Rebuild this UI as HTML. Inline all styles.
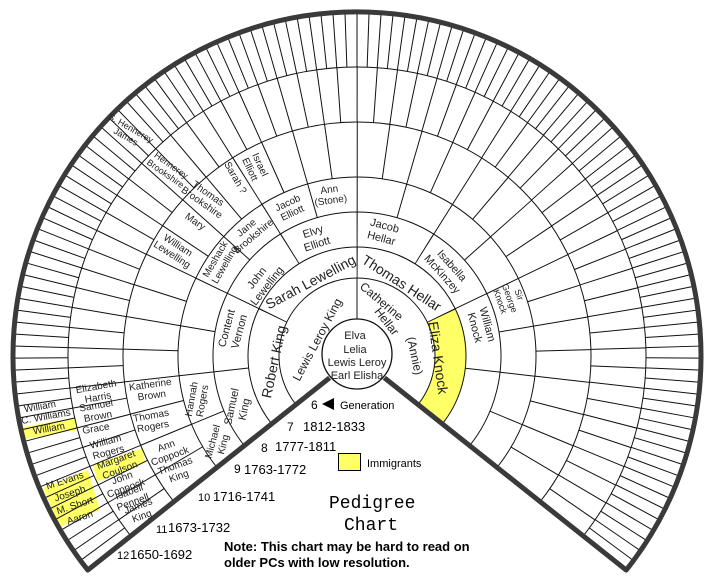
<!DOCTYPE html>
<html><head><meta charset="utf-8"><style>
html,body{margin:0;padding:0;background:#fff;width:718px;height:585px;overflow:hidden;}
svg{display:block;}
.h{font-family:"Liberation Sans",sans-serif;fill:#222;text-anchor:middle;dominant-baseline:middle;}
.s{font-family:"Liberation Sans",sans-serif;fill:#000;}
</style></head><body>
<svg width="718" height="585" viewBox="0 0 718 585" xmlns="http://www.w3.org/2000/svg" overflow="hidden">
<rect width="718" height="585" fill="#fff"/>
<path d="M427.3 322.1 A78 78 0 0 1 418.0 404.6 L442.3 423.9 A109 109 0 0 0 455.2 308.7Z" fill="#ffff66"/>
<polygon points="23,427 75,418 78,430 25,439" fill="#ffff66"/>
<polygon points="93,465 143,448 145,463 97,482" fill="#ffff66"/>
<polygon points="43,488 88,470 100,510 60,527" fill="#ffff66"/>
<g fill="none" stroke="#111" stroke-width="1">
<path d="M296.0 404.6 A78 78 0 1 1 418.0 404.6"/>
<path d="M271.7 423.9 A109 109 0 1 1 442.3 423.9"/>
<path d="M244.3 445.6 A144 144 0 1 1 469.7 445.6"/>
<path d="M216.9 467.4 A179 179 0 1 1 497.1 467.4"/>
<path d="M173.9 501.7 A234 234 0 1 1 540.1 501.7"/>
<path d="M130.8 535.9 A289 289 0 1 1 583.2 535.9"/>
<line x1="357" y1="319" x2="357" y2="278"/>
</g>
<g fill="none" stroke="#111" stroke-dashoffset="0.5">
<path d="M283.8 414.2 A93.5 93.5 0 1 1 430.2 414.2" stroke-width="31" stroke-dasharray="1 103.85"/>
<path d="M258.0 434.7 A126.5 126.5 0 1 1 456.0 434.7" stroke-width="35" stroke-dasharray="1 69.93"/>
<path d="M230.6 456.5 A161.5 161.5 0 1 1 483.4 456.5" stroke-width="35" stroke-dasharray="1 44.28"/>
<path d="M195.4 484.5 A206.5 206.5 0 1 1 518.6 484.5" stroke-width="55" stroke-dasharray="1 27.95"/>
<path d="M152.4 518.8 A261.5 261.5 0 1 1 561.6 518.8" stroke-width="55" stroke-dasharray="1 17.33"/>
<path d="M109.3 553.0 A316.5 316.5 0 1 1 604.7 553.0" stroke-width="55" stroke-dasharray="1 10.09"/>
</g>
<polygon points="357,356 645,583 69,583" fill="#fff"/>
<circle cx="357" cy="354" r="35" fill="#fff" stroke="#111" stroke-width="1.3"/>
<g fill="none" stroke="#3a3a3a" stroke-width="5" stroke-linejoin="round">
<path d="M329.6 377.8 L87.8 570.1 A344 344 0 1 1 626.2 570.1 L384.4 377.8"/>
</g>
<g class="h" font-size="11">
<text x="355" y="336">Elva</text>
<text x="355" y="350">Lelia</text>
<text x="357" y="363">Lewis Leroy</text>
<text x="357" y="376">Earl Elisha</text>
</g>
<g class="h" font-size="12">
<text transform="translate(318,340) rotate(-62)">Lewis Leroy King</text>
<text transform="translate(381,302) rotate(40)">Catherine</text>
<text transform="translate(386,322) rotate(52)">Hellar</text>
<text transform="translate(414,356) rotate(78)">(Annie)</text>
<text transform="translate(275,362) rotate(-78)" font-size="14">Robert King</text>
<text transform="translate(311,283) rotate(-28)" font-size="14">Sarah Lewelling</text>
<text transform="translate(401,284) rotate(33)" font-size="14">Thomas Hellar</text>
<text transform="translate(437,358) rotate(82)" font-size="14">Eliza Knock</text>
</g>
<g class="h" font-size="11">
<g transform="translate(238,408) rotate(-78)"><text y="-6">Samuel</text><text y="7">King</text></g>
<g transform="translate(233,330) rotate(-75)"><text y="-6">Content</text><text y="7">Vernon</text></g>
<g transform="translate(262,282) rotate(-52)"><text y="-6">John</text><text y="7">Lewelling</text></g>
<g transform="translate(315,238) rotate(-18)"><text y="-6">Elvy</text><text y="7">Elliott</text></g>
<g transform="translate(383,232) rotate(15)"><text y="-6">Jacob</text><text y="7">Hellar</text></g>
<g transform="translate(447,270) rotate(48)"><text y="-6">Isabella</text><text y="7">McKinzey</text></g>
<g transform="translate(481,326) rotate(75)"><text y="-6">William</text><text y="7">Knock</text></g>
</g>
<g class="h" font-size="10">
<g transform="translate(330,195) rotate(-8)"><text y="-5">Ann</text><text y="6">(Stone)</text></g>
<g transform="translate(290,208) rotate(-25)"><text y="-5">Jacob</text><text y="6">Elliott</text></g>
<g transform="translate(250,232) rotate(-40)"><text y="-5">Jane</text><text y="6">Brookshire</text></g>
<g transform="translate(220,262) rotate(-60)"><text y="-5">Meshack</text><text y="6">Lewelling</text></g>
<g transform="translate(197,400) rotate(-80)"><text y="-5">Hannah</text><text y="6">Rogers</text></g>
<g transform="translate(218,443) rotate(-75)"><text y="-5">Michael</text><text y="6">King</text></g>
<g transform="translate(177,471) rotate(-20)"><text y="-5">Thomas</text><text y="6">King</text></g>
<g transform="translate(168,451) rotate(-20)"><text y="-5">Ann</text><text y="6">Coppock</text></g>
<g transform="translate(151,390) rotate(-8)"><text y="-5">Katherine</text><text y="6">Brown</text></g>
<g transform="translate(152,421) rotate(-10)"><text y="-5">Thomas</text><text y="6">Rogers</text></g>
<g transform="translate(175,250) rotate(33)"><text y="-5">William</text><text y="6">Lewelling</text></g>
<g transform="translate(205,198) rotate(35)"><text y="-5">Thomas</text><text y="6">Brookshire</text></g>
<text transform="translate(195,222) rotate(35)">Mary</text>
<text transform="translate(235,178) rotate(60)">Sarah ?</text>
<g transform="translate(255,167) rotate(65)"><text y="-5">Israel</text><text y="6">Elliott</text></g>
<g transform="translate(97,392) rotate(-10)"><text y="-5">Elizabeth</text><text y="6">Harris</text></g>
<g transform="translate(97,411) rotate(-10)"><text y="-5">Samuel</text><text y="6">Brown</text></g>
<text transform="translate(96,429) rotate(-10)">Grace</text>
<g transform="translate(107,447) rotate(-15)"><text y="-5">William</text><text y="6">Rogers</text></g>
<g transform="translate(118,465) rotate(-20)"><text y="-5">Margaret</text><text y="6">Coulson</text></g>
<g transform="translate(124,483) rotate(-20)"><text y="-5">John</text><text y="6">Coppock</text></g>
<g transform="translate(131,497) rotate(-20)"><text y="-5">Isabell</text><text y="6">Pennell</text></g>
<g transform="translate(140,511) rotate(-20)"><text y="-5">James</text><text y="6">King</text></g>
<text transform="translate(40,407) rotate(-10)">William</text>
<text transform="translate(46,417) rotate(-10)">C. Williams</text>
<text transform="translate(49,429) rotate(-10)">William</text>
<text transform="translate(65,481) rotate(-18)">M Evans</text>
<text transform="translate(70,494) rotate(-18)">Joseph</text>
<text transform="translate(75,506) rotate(-18)">M. Short</text>
<text transform="translate(80,518) rotate(-18)">Aaron</text>
</g>
<g class="h" font-size="9">
<g transform="translate(510,298) rotate(70)"><text y="-9">Sir</text><text y="1">George</text><text y="11">Knock</text></g>
<g transform="translate(168,170) rotate(35)"><text y="-5">Hennerey</text><text y="5">Brookshire</text></g>
<g transform="translate(128,133) rotate(30)"><text y="-5">S. Hennerey</text><text y="5">James</text></g>
</g>
<g class="s">
<text x="311" y="409" font-size="12">6</text>
<polygon points="322,404 334,398 334,410" fill="#000"/>
<text x="340" y="409" font-size="11">Generation</text>
<text x="287" y="431" font-size="12">7</text><text x="303" y="431" font-size="13">1812-1833</text>
<text x="261" y="452" font-size="12">8</text><text x="275" y="451" font-size="13">1777-1811</text>
<text x="234" y="473" font-size="12">9</text><text x="244" y="474" font-size="13">1763-1772</text>
<text x="198" y="501" font-size="11">10</text><text x="213" y="501" font-size="13">1716-1741</text>
<text x="156" y="533" font-size="11">11</text><text x="168" y="532" font-size="13">1673-1732</text>
<text x="117" y="559" font-size="11">12</text><text x="130" y="559" font-size="13">1650-1692</text>
<rect x="338.5" y="453.5" width="22" height="17" fill="#ffff66" stroke="#000" stroke-width="1"/>
<text x="367" y="467" font-size="11">Immigrants</text>
<text x="329" y="508" font-size="18" font-family="Liberation Mono, monospace">Pedigree</text>
<text x="344" y="530" font-size="18" font-family="Liberation Mono, monospace">Chart</text>
<text x="224" y="551" font-size="13" font-weight="bold">Note: This chart may be hard to read on</text>
<text x="224" y="567" font-size="13" font-weight="bold">older PCs with low resolution.</text>
</g>
</svg>
</body></html>
